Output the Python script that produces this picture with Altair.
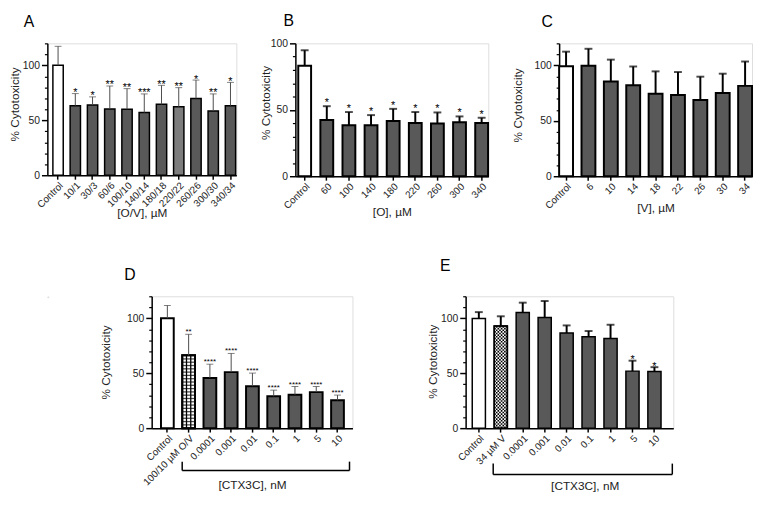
import altair as alt
import pandas as pd

FONT = "Liberation Sans"
TXT = "#222222"
DARK = "#595959"

# ---------------- data ----------------
a_cats = ["Control", "10/1", "30/3", "60/6", "100/10", "140/14", "180/18", "220/22", "260/26", "300/30", "340/34"]
a_mean = [100, 63.3, 63.9, 60.3, 60.0, 57.0, 64.5, 62.4, 69.9, 58.5, 63.3]
a_top = [117.3, 74.3, 71.3, 81.2, 78.8, 74.0, 81.8, 79.7, 86.6, 74.0, 84.5]
a_stars = ["", "*", "*", "**", "**", "***", "**", "**", "*", "**", "*"]
a_fill = ["white", DARK, DARK, DARK, DARK, DARK, DARK, "#7d7d7d", DARK, DARK, DARK]

b_cats = ["Control", "60", "100", "140", "180", "220", "260", "300", "340"]
b_mean = [83.2, 42.3, 38.4, 38.4, 41.6, 40.1, 39.6, 40.6, 40.1]
b_top = [94.8, 52.7, 48.3, 46.0, 50.7, 48.3, 48.0, 45.0, 44.0]
b_stars = ["", "*", "*", "*", "*", "*", "*", "*", "*"]
b_fill = ["white"] + [DARK] * 8

c_cats = ["Control", "6", "10", "14", "18", "22", "26", "30", "34"]
c_mean = [99.4, 99.7, 85.5, 82.2, 74.5, 73.3, 68.8, 75.1, 81.6]
c_top = [112.5, 115.1, 105.3, 99.1, 94.7, 94.1, 89.9, 92.6, 103.6]
c_stars = [""] * 9
c_fill = ["white"] + [DARK] * 8

d_cats = ["Control", "100/10 µM O/V", "0.0001", "0.001", "0.01", "0.1", "1", "5", "10"]
d_mean = [100, 66.3, 45.7, 51.0, 38.2, 29.0, 30.4, 32.8, 25.4]
d_top = [111.6, 85.4, 58.2, 68.0, 50.1, 34.6, 37.9, 37.9, 30.1]
d_stars = ["", "**", "****", "****", "****", "****", "****", "****", "****"]
d_fill = ["white", "white"] + [DARK] * 7

e_cats = ["Control", "34 µM V", "0.0001", "0.001", "0.01", "0.1", "1", "5", "10"]
e_mean = [99.7, 92.9, 105.3, 100.6, 86.6, 83.1, 81.6, 51.9, 51.6]
e_top = [105.6, 101.8, 114.2, 115.7, 93.5, 88.4, 94.1, 61.4, 55.5]
e_stars = ["", "", "", "", "", "", "", "*", "*"]
e_fill = ["white", "white"] + [DARK] * 7


def panel(letter, cats, mean, top, stars, fills, width, height, ymax, pi, po, align,
          xtitle, ytx, yty, xty, letter_dx, letter_offset, bar_sw, err_color, err_w,
          cap_w, star_size, star_dy, xtx=None, pattern=None, pattern_idx=None, bracket=None):
    n = len(cats)
    step = width / (n - pi + 2 * po)
    bw = step * (1 - pi)
    df = pd.DataFrame({"cat": cats, "mean": mean, "top": top, "star": stars, "fill": fills})

    xax = dict(title=xtitle, labelAngle=-45, labelAlign="right", labelBaseline="top",
               labelPadding=1, labelOverlap=False, tickSize=4, tickWidth=1.5, tickColor="black",
               domainColor="black", domainWidth=1.5, labelFontSize=10, labelColor=TXT,
               labelFont=FONT, titleFont=FONT, titleFontSize=12, titleFontWeight="normal",
               titleColor=TXT, titleY=xty, titleBaseline="top", grid=False)
    if xtx is not None:
        xax["titleX"] = xtx
        xax["titleAlign"] = "center"
    x = alt.X("cat:N", sort=cats,
              scale=alt.Scale(domain=cats, paddingInner=pi, paddingOuter=po, align=align),
              axis=alt.Axis(**xax))
    ysc = alt.Scale(domain=[0, ymax], nice=False, zero=True)
    major = alt.Axis(values=[0, 50, 100], tickSize=6, tickWidth=1.5, tickColor="black",
                     domainColor="black", domainWidth=1.5, labelFontSize=10.5, labelPadding=2,
                     labelColor=TXT, labelFont=FONT, title="% Cytotoxicity", titleFont=FONT,
                     titleFontSize=12, titleFontWeight="normal", titleColor=TXT, titleX=ytx,
                     titleY=yty, titleAngle=270, titleBaseline="bottom", titleAlign="center",
                     grid=False, orient="left")
    minor_vals = [v for v in range(10, ymax + 1, 10) if v not in (50, 100)]
    minor = alt.Axis(values=minor_vals, tickSize=3, tickWidth=1.2, tickColor="black",
                     labels=False, domain=False, title=None, grid=False, orient="left")

    base = alt.Chart(df)
    layers = [
        base.mark_bar(stroke="black", strokeWidth=bar_sw).encode(
            x=x, y=alt.Y("mean:Q", scale=ysc, axis=major),
            fill=alt.Fill("fill:N", scale=None)),
    ]
    if pattern is not None:
        pcat = cats[pattern_idx]
        pm = mean[pattern_idx]
        pdf = pd.DataFrame({"cat": [pcat], "y0": [0.0], "y1": [pm]})
        if pattern == "grid":
            hv = [3.0 * k for k in range(1, 40) if 3.0 * k < pm - 1.0]
            hdf = pd.DataFrame({"cat": [pcat] * len(hv), "h": hv})
            layers.append(alt.Chart(hdf).mark_tick(size=bw, thickness=1.3, color="black").encode(
                x=x, y=alt.Y("h:Q", scale=ysc, axis=None)))
            for off in (-bw / 6, bw / 6):
                layers.append(alt.Chart(pdf).mark_rule(color="black", strokeWidth=1.3, xOffset=off).encode(
                    x=x, y=alt.Y("y0:Q", scale=ysc, axis=None), y2="y1:Q"))
        else:
            cw = bw / 8.0
            for k in range(8):
                off = -bw / 2 + cw * (k + 0.5)
                layers.append(alt.Chart(pdf).mark_rule(
                    color="black", strokeWidth=cw, strokeDash=[cw, cw],
                    strokeDashOffset=(cw if k % 2 else 0), xOffset=off).encode(
                    x=x, y=alt.Y("y0:Q", scale=ysc, axis=None), y2="y1:Q"))
        layers.append(alt.Chart(pdf).mark_bar(fillOpacity=0, stroke="black", strokeWidth=bar_sw).encode(
            x=x, y=alt.Y("y1:Q", scale=ysc, axis=None)))
    layers += [
        base.mark_rule(color=err_color, strokeWidth=err_w).encode(
            x=x, y=alt.Y("mean:Q", scale=ysc, axis=minor), y2="top:Q"),
        base.mark_tick(size=cap_w, thickness=err_w, color=err_color).encode(
            x=x, y=alt.Y("top:Q", scale=ysc, axis=None)),
        base.mark_text(fontSize=star_size, baseline="alphabetic", dy=star_dy, font=FONT,
                       color="black").encode(
            x=x, y=alt.Y("top:Q", scale=ysc, axis=None), text="star:N"),
    ]
    if bracket is not None:
        bx0, bx1, by, bt = bracket
        one = pd.DataFrame({"v": [0]})
        layers += [
            alt.Chart(one).mark_rule(color="black", strokeWidth=1.5).encode(
                x=alt.value(bx0), x2=alt.value(bx1), y=alt.value(height + by)),
            alt.Chart(one).mark_rule(color="black", strokeWidth=1.5).encode(
                x=alt.value(bx0), y=alt.value(height + by - bt), y2=alt.value(height + by)),
            alt.Chart(one).mark_rule(color="black", strokeWidth=1.5).encode(
                x=alt.value(bx1), y=alt.value(height + by - bt), y2=alt.value(height + by)),
        ]
    return alt.layer(*layers).resolve_axis(y="independent").properties(
        width=width, height=height,
        title=alt.TitleParams(letter, anchor="start", frame="group", dx=letter_dx,
                              offset=letter_offset, fontSize=16, font=FONT,
                              fontWeight="normal", color="black"))


A = panel("A", a_cats, a_mean, a_top, a_stars, a_fill, 192, 134, 120, 0.4, 0.18, 0.89,
          "[O/V], µM", -26, 61.5, 33, -24, 10, 1.5, "#4a4a4a", 1, 7, 11, 2.5)
B = panel("B", b_cats, b_mean, b_top, b_stars, b_fill, 196, 135, 100, 0.42, 0.07, 0.93,
          "[O], µM", -23, 60, 31, -12, 10, 2, "black", 2, 8, 11, 0)
C = panel("C", c_cats, c_mean, c_top, c_stars, c_fill, 196, 135, 120, 0.38, 0.0, 0.5,
          "[V], µM", -35, 62.5, 27, -18, 10, 2, "black", 2, 8, 11, 0)
D = panel("D", d_cats, d_mean, d_top, d_stars, d_fill, 204, 134, 120, 0.4, 0.42, 0.52,
          "[CTX3C], nM", -40, 66.7, 52, -28, 13, 2, "#4a4a4a", 1, 7, 8, 0,
          pattern="grid", pattern_idx=1, bracket=(31, 201, 43, 9))
E = panel("E", e_cats, e_mean, e_top, e_stars, e_fill, 211, 134, 120, 0.4, 0.43, 0.35,
          "[CTX3C], nM", -27, 66, 53, -26, 21, 1.5, "black", 2, 8, 11, 2.5,
          xtx=121, pattern="checker", pattern_idx=1, bracket=(28, 210, 47, 11))

spacer = alt.Chart(pd.DataFrame({"v": [0]})).mark_rule(color="white", strokeWidth=1).encode(
    x=alt.value(0), x2=alt.value(1), y=alt.value(0)).properties(width=1, height=1)

top_row = alt.hconcat(A, B, C, spacing=21)
bottom_row = alt.hconcat(spacer, alt.hconcat(D, E, spacing=73), spacing=50)

chart = alt.concat(top_row, bottom_row, columns=1, spacing=38, align="none").properties(
    padding=0, background="white"
).configure_view(stroke=None).configure(font=FONT)

chart.save("out.html", embed_options={"renderer": "svg", "actions": False})
